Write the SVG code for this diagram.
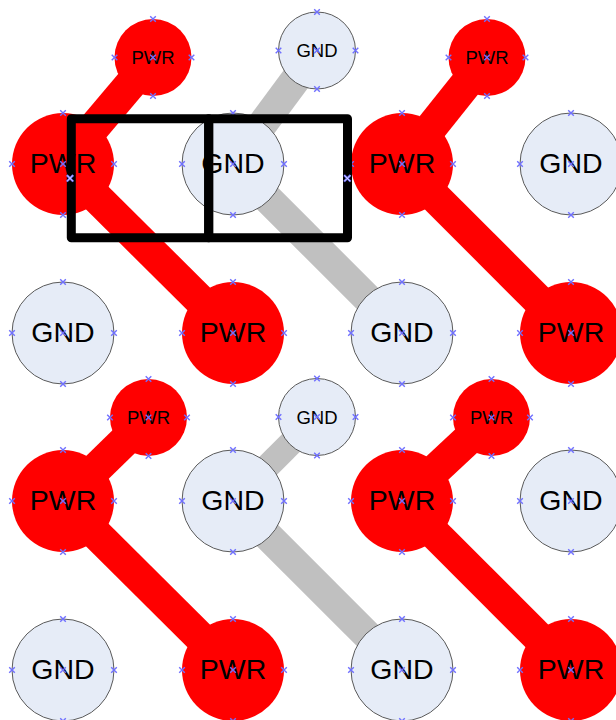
<svg xmlns="http://www.w3.org/2000/svg" xmlns:xlink="http://www.w3.org/1999/xlink" width="616" height="720" viewBox="0 0 616 720">
<style>
.pwr{fill:#ff0000;stroke:none}
.gnd{fill:#e6ecf7;stroke:#5a5a5a;stroke-width:1}
.lr{stroke:#ff0000;stroke-width:32;fill:none}
.lg{stroke:#c0c0c0;stroke-width:30;fill:none}
.tb{font-family:"Liberation Sans",Arial,sans-serif;font-size:28.5px;fill:#000;text-anchor:middle}
.ts{font-family:"Liberation Sans",Arial,sans-serif;font-size:18.5px;fill:#000;text-anchor:middle}
.box{fill:none;stroke:#000;stroke-width:9;stroke-linejoin:round}
.xm{stroke:#7070ff;stroke-width:1.4;fill:none}
</style>
<defs>
<path id="x" class="xm" d="M-2.8,-2.8L2.8,2.8M-2.8,2.8L2.8,-2.8"/>
<g id="mb"><use xlink:href="#x" x="0" y="-51"/><use xlink:href="#x" x="0" y="51"/><use xlink:href="#x" x="-51" y="0"/><use xlink:href="#x" x="51" y="0"/><use xlink:href="#x" x="0" y="0"/></g>
<g id="ms"><use xlink:href="#x" x="0" y="-38.5"/><use xlink:href="#x" x="0" y="38.5"/><use xlink:href="#x" x="-38.5" y="0"/><use xlink:href="#x" x="38.5" y="0"/><use xlink:href="#x" x="0" y="0"/></g>
<g id="xd"><path d="M-3.2,-3.2L3.2,3.2M-3.2,3.2L3.2,-3.2" stroke="#7070ff" stroke-width="2.2" fill="none"/><path d="M-3,-3L3,3M-3,3L3,-3" stroke="#fff" stroke-width="0.7" fill="none"/></g>
</defs>
<g id="connectors">
<line class="lr" x1="63" y1="164" x2="153" y2="57.5"/>
<line class="lr" x1="63" y1="164" x2="233" y2="333"/>
<line class="lr" x1="402" y1="164" x2="487" y2="57.5"/>
<line class="lr" x1="402" y1="164" x2="571" y2="333"/>
<line class="lr" x1="63" y1="501" x2="148.5" y2="417.5"/>
<line class="lr" x1="63" y1="501" x2="233" y2="670"/>
<line class="lr" x1="402" y1="501" x2="491.5" y2="417.5"/>
<line class="lr" x1="402" y1="501" x2="571" y2="670"/>
<line class="lg" x1="317" y1="50.5" x2="233" y2="164"/>
<line class="lg" x1="233" y1="164" x2="402" y2="333"/>
<line class="lg" x1="317" y1="417" x2="233" y2="501" style="stroke-width:25"/>
<line class="lg" x1="233" y1="501" x2="402" y2="670"/>
</g>
<g id="n_s1"><circle class="pwr" cx="153" cy="57.5" r="38.5"/><text class="ts" x="153" y="64">PWR</text><use xlink:href="#ms" x="153" y="57.5"/></g>
<g id="n_s2"><circle class="gnd" cx="317" cy="50.5" r="38.5"/><text class="ts" x="317" y="57">GND</text><use xlink:href="#ms" x="317" y="50.5"/></g>
<g id="n_s3"><circle class="pwr" cx="487" cy="57.5" r="38.5"/><text class="ts" x="487" y="64">PWR</text><use xlink:href="#ms" x="487" y="57.5"/></g>
<g id="n_s4"><circle class="pwr" cx="148.5" cy="417.5" r="38.5"/><text class="ts" x="148.5" y="424">PWR</text><use xlink:href="#ms" x="148.5" y="417.5"/></g>
<g id="n_s5"><circle class="gnd" cx="317" cy="417" r="38.5"/><text class="ts" x="317" y="423.5">GND</text><use xlink:href="#ms" x="317" y="417"/></g>
<g id="n_s6"><circle class="pwr" cx="491.5" cy="417.5" r="38.5"/><text class="ts" x="491.5" y="424">PWR</text><use xlink:href="#ms" x="491.5" y="417.5"/></g>
<g id="n_11"><circle class="pwr" cx="63" cy="164" r="51"/><text class="tb" x="63" y="173">PWR</text><use xlink:href="#mb" x="63" y="164"/></g>
<g id="n_12"><circle class="gnd" cx="233" cy="164" r="51"/><text class="tb" x="233" y="173">GND</text><use xlink:href="#mb" x="233" y="164"/></g>
<g id="n_13"><circle class="pwr" cx="402" cy="164" r="51"/><text class="tb" x="402" y="173">PWR</text><use xlink:href="#mb" x="402" y="164"/></g>
<g id="n_14"><circle class="gnd" cx="571" cy="164" r="51"/><text class="tb" x="571" y="173">GND</text><use xlink:href="#mb" x="571" y="164"/></g>
<g id="n_21"><circle class="gnd" cx="63" cy="333" r="51"/><text class="tb" x="63" y="342">GND</text><use xlink:href="#mb" x="63" y="333"/></g>
<g id="n_22"><circle class="pwr" cx="233" cy="333" r="51"/><text class="tb" x="233" y="342">PWR</text><use xlink:href="#mb" x="233" y="333"/></g>
<g id="n_23"><circle class="gnd" cx="402" cy="333" r="51"/><text class="tb" x="402" y="342">GND</text><use xlink:href="#mb" x="402" y="333"/></g>
<g id="n_24"><circle class="pwr" cx="571" cy="333" r="51"/><text class="tb" x="571" y="342">PWR</text><use xlink:href="#mb" x="571" y="333"/></g>
<g id="n_31"><circle class="pwr" cx="63" cy="501" r="51"/><text class="tb" x="63" y="510">PWR</text><use xlink:href="#mb" x="63" y="501"/></g>
<g id="n_32"><circle class="gnd" cx="233" cy="501" r="51"/><text class="tb" x="233" y="510">GND</text><use xlink:href="#mb" x="233" y="501"/></g>
<g id="n_33"><circle class="pwr" cx="402" cy="501" r="51"/><text class="tb" x="402" y="510">PWR</text><use xlink:href="#mb" x="402" y="501"/></g>
<g id="n_34"><circle class="gnd" cx="571" cy="501" r="51"/><text class="tb" x="571" y="510">GND</text><use xlink:href="#mb" x="571" y="501"/></g>
<g id="n_41"><circle class="gnd" cx="63" cy="670" r="51"/><text class="tb" x="63" y="679">GND</text><use xlink:href="#mb" x="63" y="670"/></g>
<g id="n_42"><circle class="pwr" cx="233" cy="670" r="51"/><text class="tb" x="233" y="679">PWR</text><use xlink:href="#mb" x="233" y="670"/></g>
<g id="n_43"><circle class="gnd" cx="402" cy="670" r="51"/><text class="tb" x="402" y="679">GND</text><use xlink:href="#mb" x="402" y="670"/></g>
<g id="n_44"><circle class="pwr" cx="571" cy="670" r="51"/><text class="tb" x="571" y="679">PWR</text><use xlink:href="#mb" x="571" y="670"/></g>
<g id="box1"><rect class="box" x="71.3" y="118.8" width="137.4" height="119"/><use xlink:href="#xd" x="70" y="178.3"/></g>
<g id="box2"><rect class="box" x="208.7" y="118.8" width="138.8" height="119"/><use xlink:href="#xd" x="347.3" y="178.3"/></g>
</svg>
